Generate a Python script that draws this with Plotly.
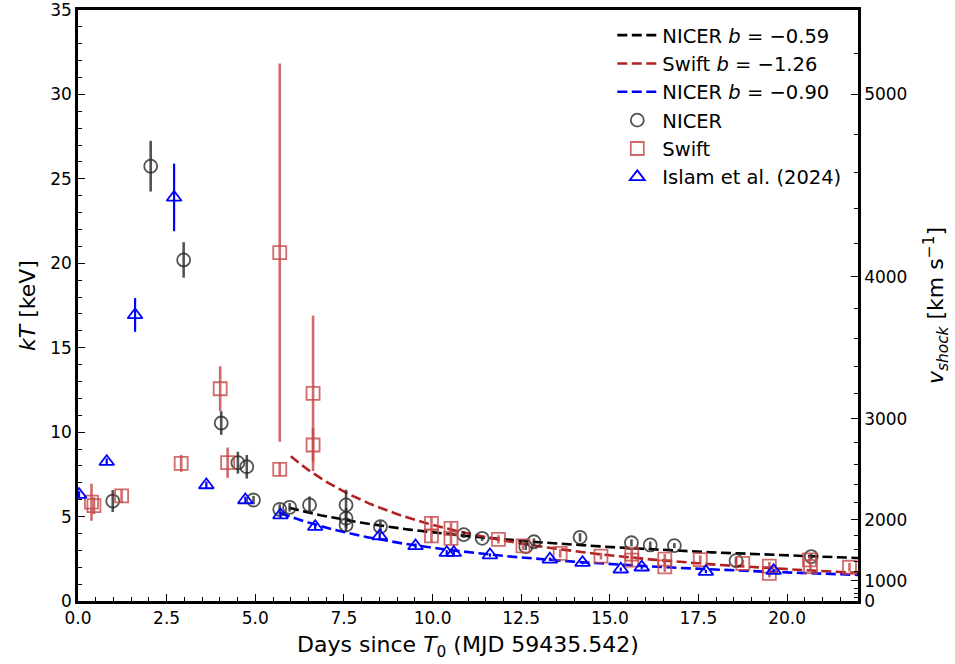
import numpy as np
import plotly.graph_objects as go

# ---------------- data ----------------
nicer_t = [0.98, 2.05, 2.98, 4.04, 4.51, 4.76, 4.95, 5.69, 5.97, 6.53, 7.56, 7.56, 7.56,
           8.53, 10.88, 11.40, 12.63, 12.86, 14.16, 15.61, 16.14, 16.82, 18.56, 20.68]
nicer_kT = [5.92, 25.75, 20.2, 10.54, 8.19, 7.95, 5.98, 5.43, 5.55, 5.69, 5.69, 4.9, 4.5,
            4.40, 3.93, 3.71, 3.22, 3.51, 3.77, 3.45, 3.32, 3.28, 2.39, 2.63]
nicer_err = [0.65, 1.5, 1.05, 0.7, 0.65, 0.7, 0.25, 0.3, 0.25, 0.5, 0.9, 0.6, 0.4,
             0.35, 0.2, 0.15, 0.2, 0.2, 0.25, 0.2, 0.2, 0.15, 0.2, 0.2]

swift_t = [0.38, 0.45, 1.23, 2.91, 4.01, 4.22, 5.69, 5.69, 6.63, 6.63, 9.97, 9.97, 10.52,
           10.52, 11.86, 12.55, 13.6, 14.75, 15.62, 15.62, 16.55, 16.55, 17.55, 18.75,
           19.5, 19.5, 20.63, 20.66, 21.76]
swift_kT = [5.85, 5.65, 6.22, 8.15, 12.57, 8.19, 20.63, 7.8, 12.3, 9.24, 4.6, 3.86, 4.30,
            3.71, 3.65, 3.27, 2.82, 2.66, 2.78, 2.42, 2.48, 2.02, 2.45, 2.23,
            2.07, 1.64, 2.43, 2.03, 2.0]
swift_err = [1.1, 0.5, 0.4, 0.5, 1.33, 0.9, 11.2, 0.4, 4.6, 1.0, 0.4, 0.4, 0.35,
             0.35, 0.25, 0.25, 0.25, 0.2, 0.3, 0.3, 0.3, 0.3, 0.25, 0.2,
             0.25, 0.25, 0.25, 0.25, 0.25]

islam_t = [0.03, 0.81, 1.61, 2.71, 3.62, 4.72, 5.71, 6.69, 8.51, 9.52, 10.40, 10.60,
           11.62, 13.31, 14.23, 15.31, 15.90, 17.71, 19.62]
islam_kT = [6.3, 8.25, 16.94, 23.9, 6.87, 5.98, 5.09, 4.40, 3.85, 3.26, 2.86, 2.86,
            2.72, 2.47, 2.27, 1.88, 2.0, 1.74, 1.80]
islam_err = [0.2, 0.2, 1.0, 2.0, 0.2, 0.2, 0.2, 0.2, 0.15, 0.15, 0.15, 0.15,
             0.1, 0.1, 0.1, 0.1, 0.1, 0.1, 0.1]

# power-law fits kT = A * t^b
fit_names = ["NICER <i>b</i> = \u22120.59", "Swift <i>b</i> = \u22121.26", "NICER <i>b</i> = \u22120.90"]
fit_A = [15.8, 82.0, 25.0]
fit_b = [-0.59, -1.26, -0.90]
fit_start = [5.95, 6.0, 5.7]
fit_end = 22.0

# secondary axis: v_shock (km/s), kT = K * v^2
K_CONV = 1.2e-6
v_major = [0, 1000, 2000, 3000, 4000, 5000]
v_minor = list(range(200, 5500, 200))

x_ticks = [0.0, 2.5, 5.0, 7.5, 10.0, 12.5, 15.0, 17.5, 20.0]
y_ticks = [0, 5, 10, 15, 20, 25, 30, 35]

# ---------------- figure ----------------
FONT = "DejaVu Sans"
fig = go.Figure()

fit_colors = ["black", "#B22222", "blue"]
for name, A, b, t0, col in zip(fit_names, fit_A, fit_b, fit_start, fit_colors):
    t = np.linspace(t0, fit_end, 200)
    fig.add_trace(go.Scatter(x=t, y=A * t ** b, mode="lines", name=name,
                             line=dict(color=col, width=2.6, dash="10px,4.5px"),
                             hoverinfo="skip"))

fig.add_trace(go.Scatter(
    x=nicer_t, y=nicer_kT, mode="markers", name="NICER",
    marker=dict(symbol="circle-open", size=13, color="rgba(40,40,40,0.8)",
                line=dict(width=1.8, color="rgba(40,40,40,0.8)")),
    error_y=dict(type="data", array=nicer_err, color="rgba(40,40,40,0.8)",
                 thickness=2.6, width=0)))

fig.add_trace(go.Scatter(
    x=swift_t, y=swift_kT, mode="markers", name="Swift",
    marker=dict(symbol="square-open", size=13, color="rgba(196,70,70,0.8)",
                line=dict(width=1.8, color="rgba(196,70,70,0.8)")),
    error_y=dict(type="data", array=swift_err, color="rgba(196,70,70,0.8)",
                 thickness=2.6, width=0)))

fig.add_trace(go.Scatter(
    x=islam_t, y=islam_kT, mode="markers", name="Islam et al. (2024)",
    marker=dict(symbol="triangle-up-open", size=13, color="blue",
                line=dict(width=1.8, color="blue")),
    error_y=dict(type="data", array=islam_err, color="blue",
                 thickness=2.2, width=0)))

# dummy trace to activate the secondary axis
fig.add_trace(go.Scatter(x=[0, 0], y=[0, 0], yaxis="y2", mode="lines",
                         line=dict(width=0, color="rgba(0,0,0,0)"),
                         showlegend=False, hoverinfo="skip"))

tickfont = dict(family=FONT, size=17, color="black")
titlefont = dict(family=FONT, size=22, color="black")
fig.update_layout(
    width=955, height=664,
    margin=dict(l=78, r=97, t=10, b=63, autoexpand=False),
    paper_bgcolor="white", plot_bgcolor="white",
    font=dict(family=FONT, size=17, color="black"),
    showlegend=True,
    legend=dict(x=0.985, y=0.99, xanchor="right", yanchor="top",
                bgcolor="rgba(255,255,255,0)", borderwidth=0,
                font=dict(family=FONT, size=19.5, color="black"),
                itemwidth=40, tracegroupgap=0),
    xaxis=dict(range=[0, 22.0], tickvals=x_ticks, automargin=False,
               ticktext=[f"{v:.1f}" for v in x_ticks], ticklabeloverflow="allow",
               showgrid=False, zeroline=False,
               showline=True, linecolor="black", linewidth=2.5, mirror=True,
               ticks="inside", ticklen=7, tickwidth=1.3, tickcolor="black",
               minor=dict(dtick=0.5, tick0=0, ticks="inside", ticklen=4,
                          tickwidth=1, tickcolor="black", showgrid=False),
               tickfont=tickfont,
               title=dict(text="Days since <i>T</i><sub>0</sub> (MJD 59435.542)",
                          font=titlefont, standoff=10)),
    yaxis=dict(range=[0, 35], tickvals=y_ticks, automargin=False,
               ticklabeloverflow="allow",
               showgrid=False, zeroline=False,
               showline=True, linecolor="black", linewidth=2.5, mirror=False,
               ticks="inside", ticklen=7, tickwidth=1.3, tickcolor="black",
               minor=dict(dtick=1, tick0=0, ticks="inside", ticklen=4,
                          tickwidth=1, tickcolor="black", showgrid=False),
               tickfont=tickfont,
               title=dict(text="<i>kT</i> [keV]", font=titlefont, standoff=9)),
    yaxis2=dict(overlaying="y", side="right", range=[0, 35], automargin=False,
                tickmode="array", ticklabeloverflow="allow",
                tickvals=[K_CONV * v ** 2 for v in v_major],
                ticktext=[str(v) for v in v_major],
                showgrid=False, zeroline=False,
                showline=True, linecolor="black", linewidth=2.5,
                ticks="inside", ticklen=7, tickwidth=1.3, tickcolor="black",
                minor=dict(tickmode="array", tickvals=[K_CONV * v ** 2 for v in v_minor],
                           ticks="inside", ticklen=4, tickwidth=1, tickcolor="black",
                           showgrid=False),
                tickfont=tickfont,
                title=dict(text="<i>v</i><sub><i>shock</i></sub> [km s<sup>\u22121</sup>]",
                           font=titlefont, standoff=22)),
)

fig.write_html("out.html")
